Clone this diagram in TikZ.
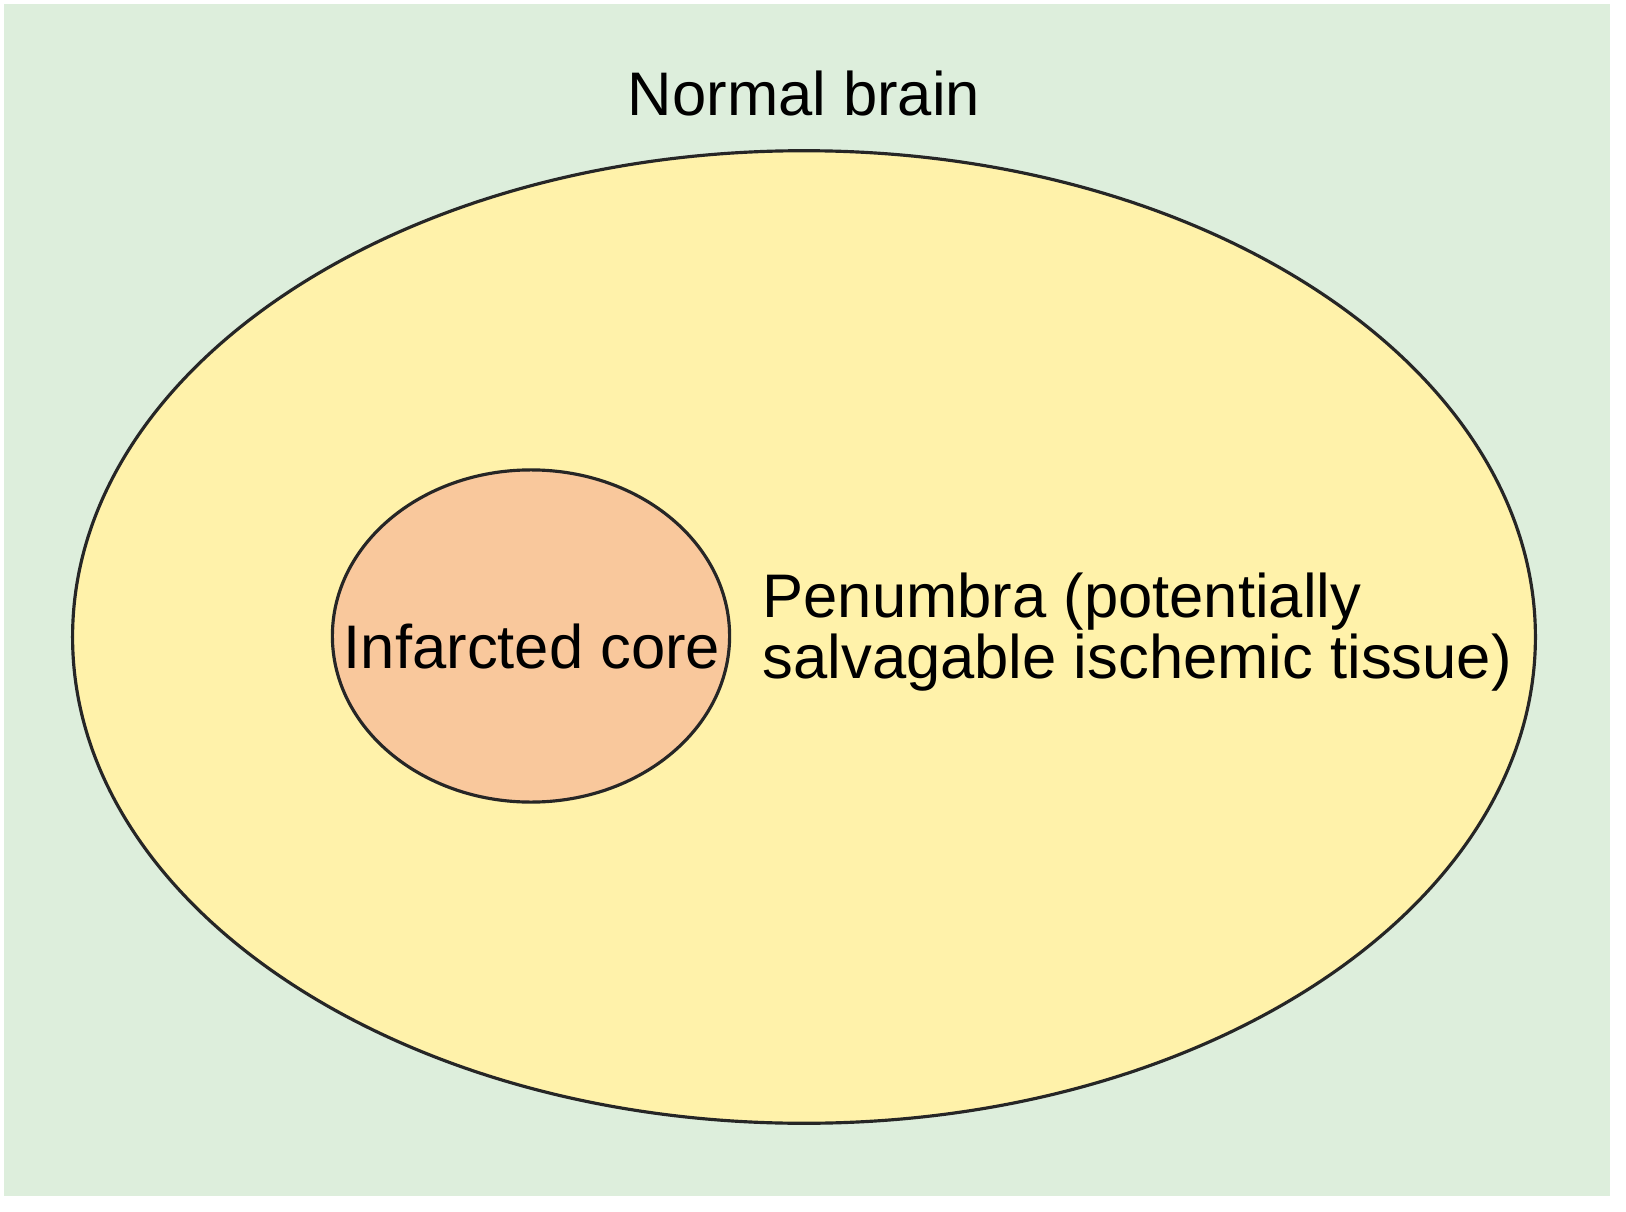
\documentclass[tikz,border=0pt]{standalone}
\usepackage{fontspec}
\setmainfont{Liberation Sans}
\usepackage{tikz}
\usetikzlibrary{positioning,shapes.geometric}

\definecolor{brainbg}{RGB}{221,238,220}
\definecolor{penumbrafill}{RGB}{255,242,170}
\definecolor{corefill}{RGB}{249,200,156}

\begin{document}
\begin{tikzpicture}[x=0.01cm, y=-0.01cm,
  zone/.style={ellipse, draw=black!85, line width=0.9pt, inner sep=0pt, outer sep=0pt},
  lbl/.style={font=\fontsize{17.5}{17.4}\selectfont, text=black, inner sep=0pt}]

  % page and background
  \useasboundingbox[fill=white] (0,0) rectangle (1626,1212);
  \fill[brainbg] (4,4) rectangle (1610,1196);

  % the two zones
  \node[zone, fill=penumbrafill, minimum width=14.62cm, minimum height=9.72cm] (penumbra) at (804,637) {};
  \node[zone, fill=corefill, minimum width=3.97cm, minimum height=3.32cm] (core) at (531,636) {};

  % labels
  \node[lbl, anchor=base] (brainlbl) at (804,115) {Normal brain};
  \node[lbl, anchor=base] (corelbl) at (532,668) {Infarcted core};
  \node[lbl, anchor=north west, align=left] (penlbl) at (762,572)
    {Penumbra (potentially\\salvagable ischemic tissue)};
\end{tikzpicture}
\end{document}
